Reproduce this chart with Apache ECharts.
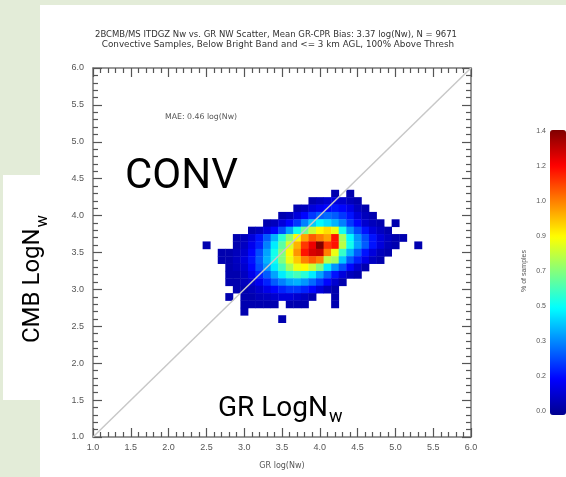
<!DOCTYPE html>
<html>
<head>
<meta charset="utf-8">
<script src="https://cdn.jsdelivr.net/npm/echarts@6/dist/echarts.min.js"></script>
<style>
  html, body { margin: 0; padding: 0; background: #e3ecd8; }
  #chart { width: 566px; height: 477px; }
</style>
</head>
<body>
<div id="chart"></div>
<script>
// Bin centres (log(Nw)) of the 2-D histogram, 0.1 wide
const gridX = [2.5, 2.6, 2.7, 2.8, 2.9, 3.0, 3.1, 3.2, 3.3, 3.4, 3.5, 3.6, 3.7, 3.8, 3.9,
               4.0, 4.1, 4.2, 4.3, 4.4, 4.5, 4.6, 4.7, 4.8, 4.9, 5.0, 5.1, 5.2, 5.3];
const gridY = [4.3, 4.2, 4.1, 4.0, 3.9, 3.8, 3.7, 3.6, 3.5, 3.4, 3.3, 3.2, 3.1, 3.0, 2.9, 2.8, 2.7, 2.6];
const binSize = 0.1;

// Percent of samples per bin, one row per gridY entry, one column per gridX entry (0 = no samples)
const cellPct = [
  [0,0,0,0,0,0,0,0,0,0,0,0,0,0,0,0,0,.05,0,.05,0,0,0,0,0,0,0,0,0],
  [0,0,0,0,0,0,0,0,0,0,0,0,0,0,.05,.07,.10,.12,.10,.07,.05,0,0,0,0,0,0,0,0],
  [0,0,0,0,0,0,0,0,0,0,0,0,.05,.07,.12,.15,.18,.20,.18,.14,.08,.05,0,0,0,0,0,0,0],
  [0,0,0,0,0,0,0,0,0,0,.05,.07,.12,.18,.25,.30,.32,.30,.25,.20,.12,.07,.05,0,0,0,0,0,0],
  [0,0,0,0,0,0,0,0,.05,.07,.12,.18,.25,.35,.45,.52,.48,.42,.35,.25,.18,.10,.07,.05,0,.05,0,0,0],
  [0,0,0,0,0,0,.05,.07,.12,.18,.28,.40,.55,.68,.80,.88,.92,.85,.55,.38,.28,.20,.12,.08,.05,0,0,0,0],
  [0,0,0,0,.05,.07,.12,.20,.30,.42,.58,.72,.88,1.0,1.1,1.05,1.0,1.2,.75,.52,.38,.28,.20,.12,.08,.05,.05,0,0],
  [.05,0,0,0,.05,.08,.15,.22,.35,.50,.65,.82,.98,1.15,1.25,1.4,1.15,1.2,.78,.55,.40,.30,.20,.12,.07,.05,0,0,.05],
  [0,0,.05,.05,.07,.10,.18,.28,.40,.55,.70,.88,1.02,1.2,1.28,1.3,1.05,.85,.60,.42,.30,.20,.12,.07,.05,0,0,0,0],
  [0,0,.05,.05,.08,.12,.20,.30,.42,.55,.70,.85,.95,1.05,1.1,1.05,.78,.75,.45,.30,.22,.14,.08,.05,0,0,0,0,0],
  [0,0,0,.05,.07,.10,.18,.28,.38,.50,.62,.75,.85,.88,.80,.70,.50,.38,.28,.18,.10,.05,0,0,0,0,0,0,0],
  [0,0,0,.05,.05,.08,.14,.22,.30,.40,.50,.58,.62,.58,.50,.40,.30,.20,.12,.07,.05,0,0,0,0,0,0,0,0],
  [0,0,0,.05,.05,.07,.10,.15,.22,.30,.35,.40,.42,.38,.32,.25,.18,.10,.05,0,0,0,0,0,0,0,0,0,0],
  [0,0,0,0,.05,.05,.07,.10,.14,.18,.22,.25,.25,.22,.18,.12,.07,.05,0,0,0,0,0,0,0,0,0,0,0],
  [0,0,0,.05,0,.05,.05,.07,.08,.10,.12,.12,.10,.08,.05,0,0,.05,0,0,0,0,0,0,0,0,0,0,0],
  [0,0,0,0,0,.05,.05,.05,.05,.05,0,.05,.05,.05,0,0,0,.05,0,0,0,0,0,0,0,0,0,0,0],
  [0,0,0,0,0,.05,0,0,0,0,0,0,0,0,0,0,0,0,0,0,0,0,0,0,0,0,0,0,0],
  [0,0,0,0,0,0,0,0,0,0,.05,0,0,0,0,0,0,0,0,0,0,0,0,0,0,0,0,0,0]
];

// Axis tick labels and colour-bar labels
const axisTicks = [1.0, 1.5, 2.0, 2.5, 3.0, 3.5, 4.0, 4.5, 5.0, 5.5, 6.0];
const colorbarTicks = [0.0, 0.175, 0.35, 0.525, 0.7, 0.875, 1.05, 1.225, 1.4];
const colorbarLabels = ['0.0', '0.2', '0.3', '0.5', '0.7', '0.9', '1.0', '1.2', '1.4'];
const oneToOne = [[1.0, 1.0], [6.0, 6.0]];

const titleLines = [
  '2BCMB/MS ITDGZ Nw vs. GR NW Scatter, Mean GR-CPR Bias: 3.37 log(Nw), N = 9671',
  'Convective Samples, Below Bright Band and <= 3 km AGL, 100% Above Thresh'
];
const maeText = 'MAE: 0.46 log(Nw)';

const jet = ['#00008f', '#0000ff', '#0080ff', '#00ffff', '#80ff80', '#ffff00', '#ff8000', '#ff0000', '#800000'];

const heatData = [];
gridY.forEach((y, r) => {
  gridX.forEach((x, c) => {
    const v = cellPct[r][c];
    if (v > 0) heatData.push([x, y, v]);
  });
});

const chart = echarts.init(document.getElementById('chart'), null, { renderer: 'canvas' });

const fmt1 = v => {
  const i = axisTicks.findIndex(t => Math.abs(t - v) < 1e-6);
  return i >= 0 ? axisTicks[i].toFixed(1) : '';
};
const tickColor = '#555';
const labelStyle = { fontSize: 9, color: '#555', fontFamily: 'Liberation Sans' };

function frameAxis(pos, showLabel, extra) {
  return Object.assign({
    type: 'value', position: pos, min: 1, max: 6, interval: 0.5,
    axisLine: { show: true, onZero: false, lineStyle: { color: '#777', width: 1.5 } },
    axisTick: { show: true, inside: true, length: 9, lineStyle: { color: tickColor, width: 1.2 } },
    minorTick: { show: true, splitNumber: 5, length: 5, lineStyle: { color: tickColor, width: 1.2 } },
    splitLine: { show: false },
    axisLabel: Object.assign({ show: showLabel, margin: pos === 'left' ? 9 : 6, formatter: fmt1 }, labelStyle)
  }, extra || {});
}

function drawTexts() {
  const ctx = document.createElement('canvas').getContext('2d');
  const measure = (t, f) => { ctx.font = f; return ctx.measureText(t).width; };
  const bigFont = 'Roboto';
  const grMain = 'GR LogN', cmbMain = 'CMB LogN';
  const grW = measure(grMain, '28px ' + bigFont);
  const cmbW = measure(cmbMain, '24px ' + bigFont);
  const mid = { textAlign: 'left', textVerticalAlign: 'middle', verticalAlign: 'middle' };
  return [
    { type: 'rect', left: 40, top: 5, shape: { width: 526, height: 472 }, style: { fill: '#fff' }, z: -10 },
    { type: 'rect', left: 3, top: 175, shape: { width: 60, height: 225 }, style: { fill: '#fff' }, z: -10 },
    { type: 'text', x: 276, y: 35, style: { text: titleLines[0], font: '8.5px DejaVu Sans', fill: '#333', textAlign: 'center', align: 'center', textVerticalAlign: 'middle', verticalAlign: 'middle' } },
    { type: 'text', x: 278, y: 45, style: { text: titleLines[1], font: '8.8px DejaVu Sans', fill: '#333', textAlign: 'center', align: 'center', textVerticalAlign: 'middle', verticalAlign: 'middle' } },
    { type: 'text', x: 165, y: 117, style: Object.assign({ text: maeText, font: '7.8px DejaVu Sans', fill: '#555' }, mid) },
    { type: 'text', x: 125, y: 177, z: 20, style: Object.assign({ text: 'CONV', font: '42px ' + bigFont, fill: '#000' }, mid) },
    { type: 'text', x: 218, y: 409, z: 20, style: Object.assign({ text: grMain, font: '28px ' + bigFont, fill: '#000' }, mid) },
    { type: 'text', x: 219 + grW, y: 417, z: 20, style: Object.assign({ text: 'w', font: '18px ' + bigFont, fill: '#000' }, mid) },
    { type: 'group', x: 32.5, y: 343, rotation: Math.PI / 2, z: 20, children: [
      { type: 'text', x: 0, y: 0, style: Object.assign({ text: cmbMain, font: '24px ' + bigFont, fill: '#000' }, mid) },
      { type: 'text', x: cmbW + 1, y: 10, style: Object.assign({ text: 'w', font: '16px ' + bigFont, fill: '#000' }, mid) }
    ] }
  ];
}

chart.setOption({
  animation: false,
  backgroundColor: '#e3ecd8',
  grid: [
    { left: 93, right: 95, top: 68, bottom: 40, containLabel: false },
    { left: 550, top: 131, width: 16, height: 280, containLabel: false }
  ],
  xAxis: [
    frameAxis('bottom', true, { gridIndex: 0, name: 'GR log(Nw)', nameLocation: 'middle', nameGap: 25,
      nameTextStyle: { fontSize: 8, color: '#555', fontFamily: 'DejaVu Sans' } }),
    frameAxis('top', false, { gridIndex: 0 }),
    { type: 'value', gridIndex: 1, show: false, min: 0, max: 1 }
  ],
  yAxis: [
    frameAxis('left', true, { gridIndex: 0 }),
    frameAxis('right', false, { gridIndex: 0 }),
    { type: 'value', gridIndex: 1, position: 'left', min: 0, max: 1.4, interval: 0.175,
      axisLine: { show: false }, axisTick: { show: false }, splitLine: { show: false },
      axisLabel: Object.assign({ margin: 4, fontSize: 7,
        formatter: v => { const i = colorbarTicks.findIndex(t => Math.abs(t - v) < 1e-6); return i >= 0 ? colorbarLabels[i] : ''; } },
        { color: '#555', fontFamily: 'Liberation Sans' }),
      name: '% of samples', nameLocation: 'middle', nameRotate: 90, nameGap: 22,
      nameTextStyle: { fontSize: 7, color: '#555', fontFamily: 'Liberation Sans' } }
  ],
  visualMap: {
    type: 'continuous', min: 0, max: 1.4, dimension: 2, seriesIndex: 0,
    inRange: { color: jet }, calculable: false, realtime: false,
    left: 550, top: 130, itemWidth: 16, itemHeight: 285, padding: 0,
    text: null, showLabel: false, hoverLink: false
  },
  series: [
    {
      type: 'custom', xAxisIndex: 0, yAxisIndex: 0, data: heatData, z: 2,
      renderItem: (params, api) => {
        const x = api.value(0), y = api.value(1);
        const p0 = api.coord([x - binSize / 2, y + binSize / 2]);
        const p1 = api.coord([x + binSize / 2, y - binSize / 2]);
        return { type: 'rect', shape: { x: p0[0], y: p0[1], width: p1[0] - p0[0] + 0.4, height: p1[1] - p0[1] + 0.4 },
                 style: { fill: api.visual('color') } };
      }
    },
    {
      type: 'line', xAxisIndex: 0, yAxisIndex: 0, data: oneToOne, z: 5,
      symbol: 'none', lineStyle: { color: '#c8c8c8', width: 1.5 }, silent: true
    }
  ],
  graphic: drawTexts()
});
</script>
</body>
</html>
